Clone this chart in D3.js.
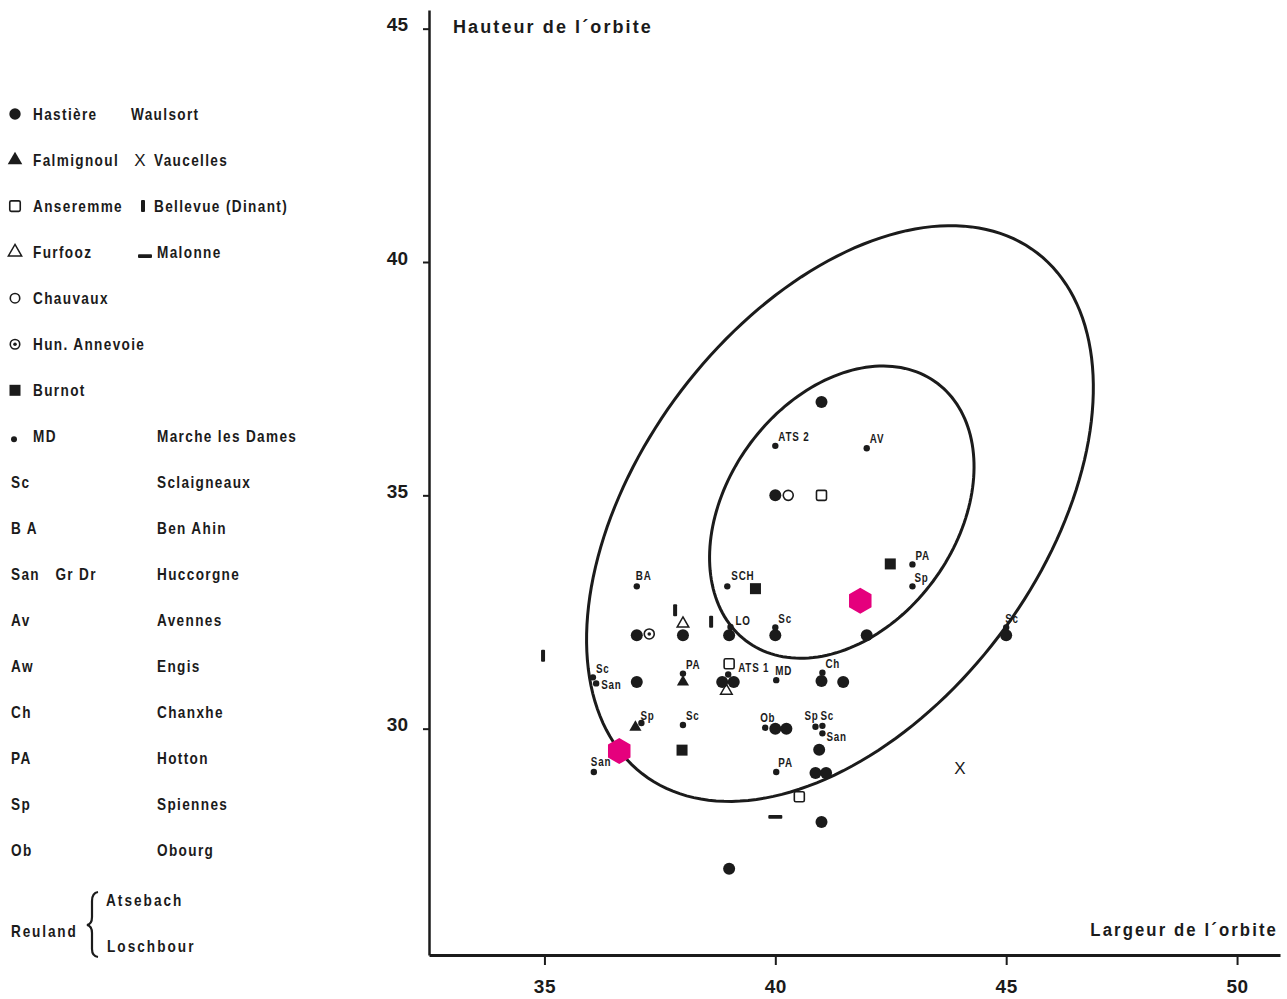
<!DOCTYPE html>
<html>
<head>
<meta charset="utf-8">
<script src="https://cdn.jsdelivr.net/npm/d3@7"></script>
<style>
  body { margin: 0; background: #fff; }
  svg { display: block; }
  text { font-family: "Liberation Sans", Arial, sans-serif; font-weight: bold; }
</style>
</head>
<body>
<svg id="chart" width="1287" height="999"></svg>
<script>
// --- data (largeur, hauteur de l'orbite) ---
const hastiere = [
  [41, 37], [40, 35], [37, 32], [38, 32], [39, 32], [40, 32], [41.98, 32], [45, 32],
  [37, 31], [38.85, 31], [39.1, 31], [41, 31.02], [41.47, 31], [40, 30], [40.24, 30],
  [40.95, 29.55], [40.87, 29.05], [41.1, 29.05], [41, 28], [39, 27]
];
const falmignoul = [[38, 31.0], [36.97, 30.03]];
const anseremme = [[41, 35], [39.0, 31.39], [40.52, 28.54]];
const furfooz = [[38.0, 32.25], [38.94, 30.81]];
const chauvaux = [[40.28, 35]];
const annevoie = [[37.27, 32.03]];
const burnot = [[39.57, 33.0], [42.49, 33.53], [37.98, 29.54]];
const bellevue = [[37.83, 32.54], [38.61, 32.29], [34.97, 31.56]];
const malonne = [[40, 28.11]];
const vaucelles = [[44, 29.15]];
const highlight = [[41.84, 32.74], [36.62, 29.52]];

// small dots with site abbreviations
const smallDots = [
  [40, 36.06, 'ATS 2'], [41.98, 36.01, 'AV'], [37, 33.05, 'BA'], [38.96, 33.05, 'SCH'],
  [42.97, 33.52, 'PA'], [42.97, 33.05, 'Sp'], [39.03, 32.18, 'LO'], [40, 32.17, 'Sc'],
  [45, 32.17, 'Sc'], [36.05, 31.1, 'Sc'], [36.12, 30.97, 'San'], [38, 31.18, 'PA'],
  [38.98, 31.16, ''], [40.02, 31.04, 'MD'], [41.02, 31.2, 'Ch'], [37.1, 30.12, 'Sp'],
  [38.0, 30.08, 'Sc'], [39.78, 30.02, 'Ob'], [40.87, 30.04, 'Sp'], [41.02, 30.06, 'Sc'],
  [41.02, 29.9, 'San'], [36.07, 29.07, 'San'], [40.02, 29.07, 'PA']
];
const squareLabels = [[39.0, 31.39, 'ATS 1']];

// confidence ellipses: centre x, centre y, semi-axes, rotation (deg)
const ellipses = [
  { cx: 41.4, cy: 34.61, a: 7.03, b: 4.33, angle: 52.5 },
  { cx: 41.44, cy: 34.64, a: 3.45, b: 2.47, angle: 53 }
];

const xTicks = [35, 40, 45, 50];
const yTicks = [30, 35, 40, 45];

const legendSymbols = [
  ['circle', 'Hastière', null, 'Waulsort'],
  ['triangle', 'Falmignoul', 'x', 'Vaucelles'],
  ['square', 'Anseremme', 'vbar', 'Bellevue (Dinant)'],
  ['otriangle', 'Furfooz', 'hbar', 'Malonne'],
  ['ocircle', 'Chauvaux', null, null],
  ['target', 'Hun. Annevoie', null, null],
  ['fsquare', 'Burnot', null, null]
];
const abbreviations = [
  ['MD', 'Marche les Dames'], ['Sc', 'Sclaigneaux'], ['B A', 'Ben Ahin'],
  ['San   Gr Dr', 'Huccorgne'], ['Av', 'Avennes'], ['Aw', 'Engis'], ['Ch', 'Chanxhe'],
  ['PA', 'Hotton'], ['Sp', 'Spiennes'], ['Ob', 'Obourg']
];
const reuland = ['Reuland', 'Atsebach', 'Loschbour'];

// label nudges (px) for the small dots, by index; default is up-right
const nudge = {
  2: [-1, -11], 3: [4, -11], 5: [2, -9], 6: [5, -6], 8: [-1, -9], 10: [5, 1],
  13: [-1, -9], 15: [-1, -7], 17: [-5, -10], 18: [-11, -11], 19: [-2, -10],
  20: [4, 3], 21: [-3, -10], 22: [2, -9]
};

const ink = '#1b1b1b';
const magenta = '#e5007d';

const svg = d3.select('#chart');
const x = d3.scaleLinear().domain([32.5, 50.93]).range([429, 1280]);
const y = d3.scaleLinear().domain([25.15, 45.4]).range([955, 10]);

// condensed text: horizontal squeeze of a bold sans
function label(g, px, py, str, opt = {}) {
  const size = opt.size || 16;
  const sx = opt.sx || 0.85;
  return g.append('text')
    .attr('transform', `translate(${px},${py}) scale(${sx},1)`)
    .attr('dy', '0.35em')
    .attr('font-size', size)
    .attr('letter-spacing', opt.ls == null ? 1.6 : opt.ls)
    .attr('text-anchor', opt.anchor || 'start')
    .attr('fill', ink)
    .style('white-space', 'pre')
    .text(str);
}

// axes
const gx = svg.append('g')
  .attr('transform', `translate(0,${y.range()[0]})`)
  .call(d3.axisBottom(x).tickValues(xTicks).tickSize(10).tickSizeOuter(0).tickPadding(15));
gx.select('.domain').attr('stroke', ink).attr('stroke-width', 3);
gx.selectAll('.tick line').attr('stroke', ink).attr('stroke-width', 2);
gx.selectAll('.tick text').attr('font-size', 19).attr('fill', ink).attr('letter-spacing', 0.5)
  .attr('font-family', null);

const gy = svg.append('g')
  .attr('transform', `translate(${x.range()[0]},0)`)
  .call(d3.axisLeft(y).tickValues(yTicks).tickSize(6).tickSizeOuter(0).tickPadding(15));
gy.select('.domain').attr('stroke', ink).attr('stroke-width', 2.5);
gy.selectAll('.tick line').attr('stroke', ink).attr('stroke-width', 2);
gy.selectAll('.tick text').attr('font-size', 19).attr('fill', ink).attr('dy', '0.12em')
  .attr('font-family', null);

svg.append('text')
  .attr('x', 453).attr('y', 33).attr('font-size', 18).attr('letter-spacing', 2.1)
  .attr('fill', ink).text('Hauteur de l´orbite');
label(svg, 1278, 929, 'Largeur de l´orbite', { size: 19, ls: 2.4, sx: 0.88, anchor: 'end' });

// ellipses
ellipses.forEach((e) => {
  const th = e.angle * Math.PI / 180;
  const pts = d3.range(0, 360, 2).map((t) => {
    const r = t * Math.PI / 180;
    return [
      e.cx + e.a * Math.cos(r) * Math.cos(th) - e.b * Math.sin(r) * Math.sin(th),
      e.cy + e.a * Math.cos(r) * Math.sin(th) + e.b * Math.sin(r) * Math.cos(th)
    ];
  });
  svg.append('path')
    .attr('d', d3.line().x(d => x(d[0])).y(d => y(d[1])).curve(d3.curveLinearClosed)(pts))
    .attr('fill', 'none').attr('stroke', ink).attr('stroke-width', 3);
});

// symbol drawers
function draw(g, kind, cx, cy, scale = 1) {
  switch (kind) {
    case 'circle':
      g.append('circle').attr('cx', cx).attr('cy', cy).attr('r', 6 * scale).attr('fill', ink);
      break;
    case 'dot':
      g.append('circle').attr('cx', cx).attr('cy', cy).attr('r', 3.2 * scale).attr('fill', ink);
      break;
    case 'ocircle':
      g.append('circle').attr('cx', cx).attr('cy', cy).attr('r', 5 * scale)
        .attr('fill', '#fff').attr('stroke', ink).attr('stroke-width', 1.6);
      break;
    case 'target':
      g.append('circle').attr('cx', cx).attr('cy', cy).attr('r', 5 * scale)
        .attr('fill', '#fff').attr('stroke', ink).attr('stroke-width', 1.6);
      g.append('circle').attr('cx', cx).attr('cy', cy).attr('r', 1.8).attr('fill', ink);
      break;
    case 'square':
      g.append('rect').attr('x', cx - 5 * scale).attr('y', cy - 5 * scale)
        .attr('width', 10 * scale).attr('height', 10 * scale)
        .attr('rx', 1.5).attr('fill', '#fff').attr('stroke', ink).attr('stroke-width', 1.6);
      break;
    case 'fsquare':
      g.append('rect').attr('x', cx - 5.5).attr('y', cy - 5.5).attr('width', 11).attr('height', 11)
        .attr('fill', ink);
      break;
    case 'triangle':
      g.append('path').attr('transform', `translate(${cx},${cy})`)
        .attr('d', d3.symbol(d3.symbolTriangle, 64 * scale * scale)()).attr('fill', ink);
      break;
    case 'otriangle':
      g.append('path').attr('transform', `translate(${cx},${cy})`)
        .attr('d', d3.symbol(d3.symbolTriangle, 58 * scale * scale)())
        .attr('fill', '#fff').attr('stroke', ink).attr('stroke-width', 1.5);
      break;
    case 'vbar':
      g.append('rect').attr('x', cx - 2).attr('y', cy - 6).attr('width', 4).attr('height', 12)
        .attr('rx', 1).attr('fill', ink);
      break;
    case 'hbar':
      g.append('rect').attr('x', cx - 7).attr('y', cy - 1.8).attr('width', 14).attr('height', 3.6)
        .attr('rx', 1).attr('fill', ink);
      break;
    case 'x':
      g.append('text').attr('x', cx).attr('y', cy).attr('dy', '0.36em').attr('text-anchor', 'middle')
        .style('font-weight', 'normal').attr('font-size', 17)
        .attr('fill', ink).text('X');
      break;
    case 'hexagon': {
      const r = 13;
      const hex = d3.range(6).map(i => [cx + r * Math.cos(Math.PI / 2 + i * Math.PI / 3),
        cy + r * Math.sin(Math.PI / 2 + i * Math.PI / 3)]);
      g.append('path').attr('d', d3.line().curve(d3.curveLinearClosed)(hex)).attr('fill', magenta);
      break;
    }
    default:
      break;
  }
}

const plot = svg.append('g');
const series = [
  [malonne, 'hbar'], [bellevue, 'vbar'], [burnot, 'fsquare'], [anseremme, 'square'],
  [furfooz, 'otriangle'], [falmignoul, 'triangle'], [chauvaux, 'ocircle'],
  [annevoie, 'target'], [hastiere, 'circle'], [vaucelles, 'x'], [highlight, 'hexagon']
];
series.forEach(([data, kind]) => {
  data.forEach(d => draw(plot, kind, x(d[0]), y(d[1])));
});

smallDots.forEach((d, i) => {
  const px = x(d[0]);
  const py = y(d[1]);
  draw(plot, 'dot', px, py);
  if (!d[2]) return;
  const [dx, dy] = nudge[i] || [3, -9];
  label(plot, px + dx, py + dy, d[2], { size: 12, ls: 1, sx: 0.82 });
});
squareLabels.forEach((d) => {
  label(plot, x(d[0]) + 9, y(d[1]) + 4, d[2], { size: 12, ls: 1, sx: 0.82 });
});

// legend
const legend = svg.append('g');
const rowY = i => 114 + i * 46.05;
const col2 = { null: 131, x: 154, vbar: 154, hbar: 157 };
const col2Sym = { x: 140, vbar: 143, hbar: 145 };
const legendScale = { triangle: 1.2, otriangle: 1.15, square: 1.05 };

legendSymbols.forEach(([s1, t1, s2, t2], i) => {
  const cy = rowY(i);
  draw(legend, s1, 15, cy, legendScale[s1] || 0.95);
  label(legend, 33, cy, t1);
  if (s2) draw(legend, s2, col2Sym[s2], s2 === 'hbar' ? cy + 4 : cy);
  if (t2) label(legend, col2[s2], cy, t2);
});

abbreviations.forEach(([ab, name], j) => {
  const cy = rowY(j + legendSymbols.length);
  let x0 = 11;
  if (j === 0) {
    legend.append('circle').attr('cx', 14).attr('cy', cy + 3).attr('r', 3).attr('fill', ink);
    x0 = 33;
  }
  label(legend, x0, cy, ab);
  label(legend, 157, cy, name);
});

label(legend, 11, 931, reuland[0], { ls: 2.2 });
label(legend, 106, 900, reuland[1], { ls: 2.4 });
label(legend, 107, 946, reuland[2], { ls: 2.4 });
legend.append('path')
  .attr('d', 'M98,892 Q92,893 92,901 L92,917 Q92,924 87,925 Q92,926 92,933 L92,949 Q92,956 98,957')
  .attr('fill', 'none').attr('stroke', ink).attr('stroke-width', 2.2);
</script>
</body>
</html>
